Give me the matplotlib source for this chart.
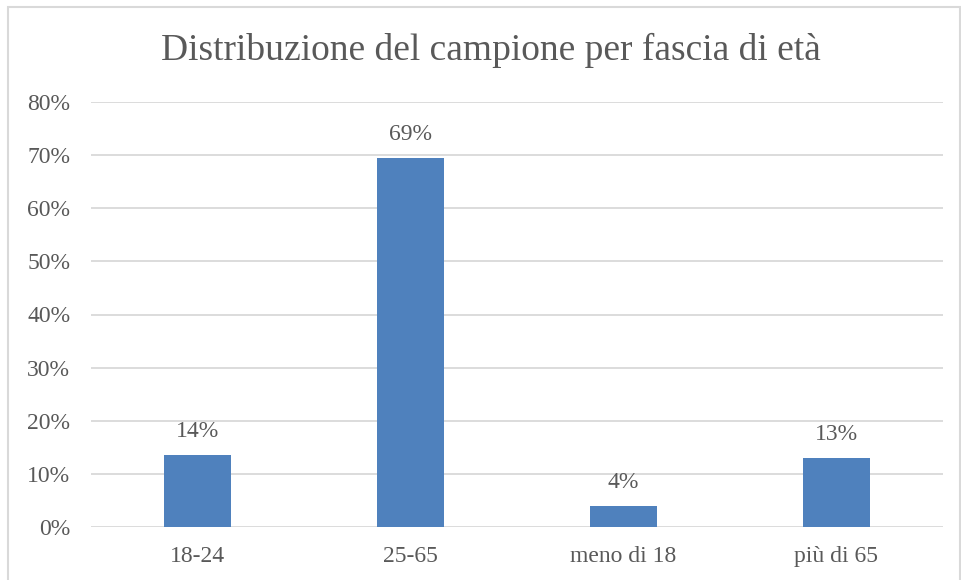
import matplotlib
matplotlib.use("Agg")
from matplotlib import pyplot as plt
from matplotlib.patches import Rectangle
from matplotlib.ticker import PercentFormatter

categories = ["18-24", "25-65", "meno di 18", "più di 65"]
values = [0.136, 0.695, 0.04, 0.13]
labels = ["14%", "69%", "4%", "13%"]
yticks = [0, 0.1, 0.2, 0.3, 0.4, 0.5, 0.6, 0.7, 0.8]

TEXT = "#595959"
plt.rcParams["font.family"] = ["Liberation Serif", "DejaVu Serif"]

fig = plt.figure(figsize=(9.62, 5.80), dpi=100, facecolor="white")
ax = fig.add_axes([91 / 962, 1 - 527 / 580, 852 / 962, 425 / 580])

# chart frame
fig.patches.append(Rectangle((8 / 962, -0.05), 952 / 962, 1.05 - 7 / 580,
                             transform=fig.transFigure, fill=False,
                             edgecolor="#d9d9d9", linewidth=1.5))

x = range(len(categories))
bars = ax.bar(x, values, width=0.31, color="#4f81bd", zorder=3)
for b, lab in zip(bars, labels):
    ax.annotate(lab, (b.get_x() + b.get_width() / 2, b.get_height()),
                xytext=(0, 9), textcoords="offset points",
                ha="center", va="bottom", fontsize=17, color=TEXT)

ax.set_xlim(-0.5, len(categories) - 0.5)
ax.set_ylim(0, 0.8)
ax.set_yticks(yticks)
ax.yaxis.set_major_formatter(PercentFormatter(1.0, decimals=0))
ax.set_xticks(list(x))
ax.set_xticklabels(categories)
ax.tick_params(axis="both", length=0, labelsize=17, labelcolor=TEXT)
ax.tick_params(axis="x", pad=14)
ax.tick_params(axis="y", pad=15)
ax.grid(axis="y", color="#d9d9d9", linewidth=1.3, zorder=0)
for s in ax.spines.values():
    s.set_visible(False)

fig.text(491 / 962, 1 - 50 / 580, "Distribuzione del campione per fascia di età",
         ha="center", va="center", fontsize=27, color=TEXT)

fig.savefig("out.png", dpi=100)
